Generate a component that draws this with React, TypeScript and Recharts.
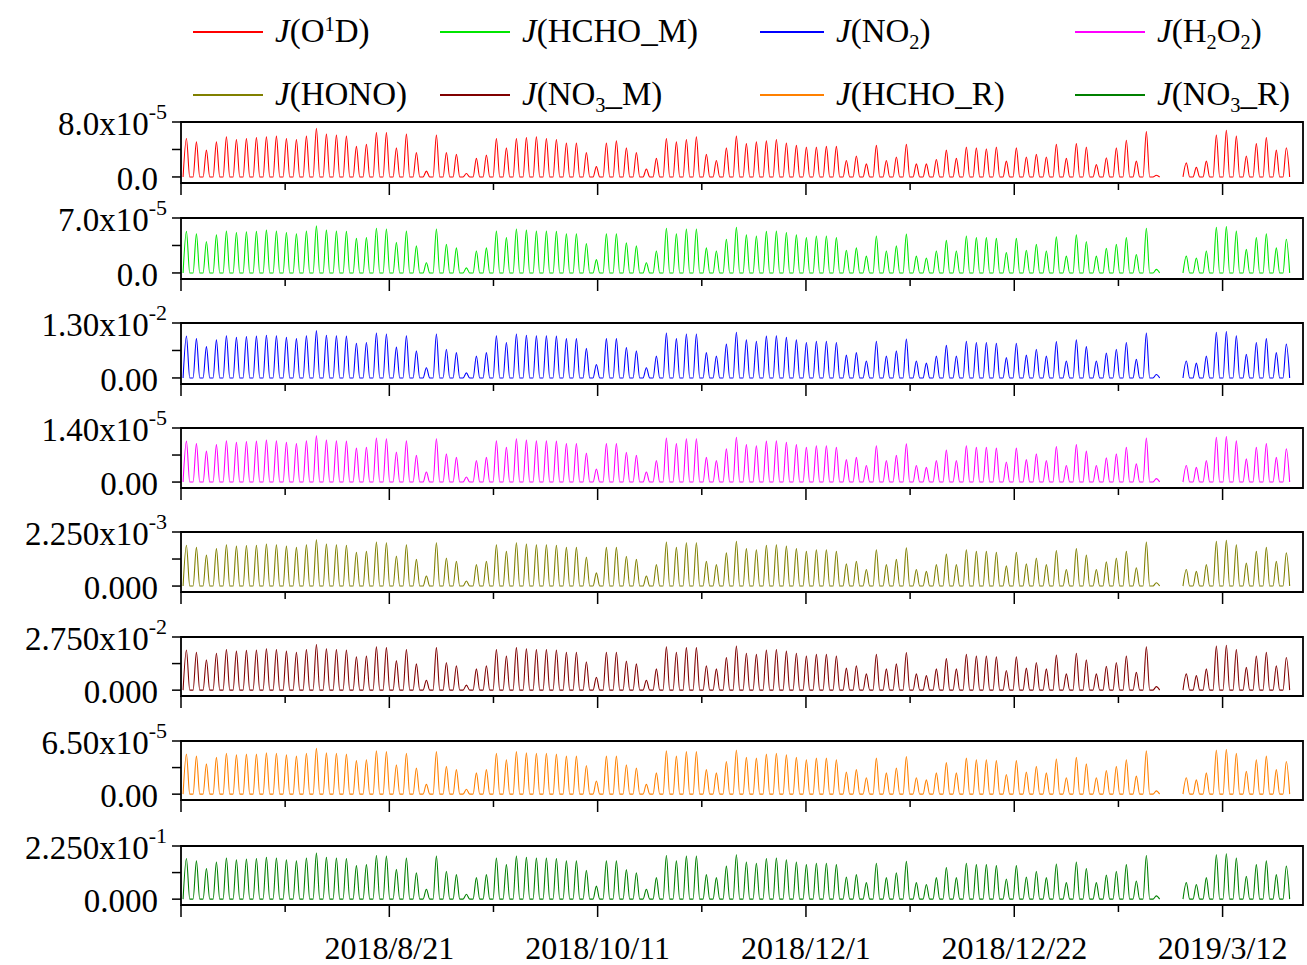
import React from "react";
import { LineChart, Line, XAxis, YAxis, ReferenceArea } from "recharts";

// daily noon peaks (null = no data)
const jO1D = [
  5.6, 5.1, 3.9, 5.1, 5.85, 5.45, 5.6, 5.75, 5.85, 5.95,
  5.6, 5.45, 5.95, 7.1, 6.25, 6.1, 5.95, 4.45, 4.75, 6.45,
  6.45, 4.25, 6.25, 3.55, 0.85, 6.1, 3.55, 3.3, 0.5, 2.7,
  3.2, 5.6, 4.25, 5.6, 5.75, 5.85, 5.6, 5.45, 4.95, 4.95,
  3.55, 1.5, 4.95, 5.25, 4.25, 3.55, 1.15, 2.7, 5.6, 5.1,
  5.45, 5.85, 3.3, 2.4, 4.25, 5.95, 4.85, 5.1, 5.25, 5.45,
  4.95, 4.6, 4.35, 4.35, 4.45, 4.45, 2.4, 3.05, 1.9, 4.6,
  2.4, 2.9, 4.75, 1.9, 1.9, 2.55, 3.9, 2.7, 4.35, 4.25,
  4.1, 4.35, 2.3, 4.25, 2.9, 3.3, 2.9, 4.75, 2.7, 4.85,
  4.35, 1.8, 2.8, 4.25, 5.35, 2.3, 6.6, 0.25, null, null,
  2.05, 1.4, 2.3, 6.1, 6.8, 5.95, 3.05, 4.85, 5.75, 3.9,
  4.25,
];
const jHCHO_M = [
  5.3, 5.0, 4.0, 4.85, 5.35, 5.15, 5.25, 5.3, 5.45, 5.35,
  5.15, 5.0, 5.35, 6.0, 5.45, 5.35, 5.3, 4.4, 4.5, 5.7,
  5.6, 3.9, 5.35, 3.45, 1.3, 5.6, 3.65, 3.2, 0.65, 2.8,
  3.2, 5.35, 4.5, 5.6, 5.45, 5.35, 5.35, 5.3, 5.0, 5.0,
  3.75, 1.7, 5.0, 5.0, 3.85, 3.45, 1.3, 2.8, 5.7, 5.0,
  5.6, 5.6, 3.2, 2.8, 4.3, 5.8, 4.85, 4.7, 5.3, 5.35,
  5.15, 4.85, 4.5, 4.7, 4.7, 4.5, 2.9, 3.2, 2.15, 4.7,
  2.8, 3.45, 4.95, 2.15, 1.9, 2.8, 4.15, 2.8, 4.7, 4.5,
  4.5, 4.4, 2.6, 4.4, 2.9, 3.65, 2.8, 4.6, 2.15, 4.85,
  4.0, 2.15, 3.15, 3.65, 4.5, 2.35, 5.7, 0.45, null, null,
  2.15, 1.9, 2.8, 5.8, 5.9, 5.35, 3.0, 4.5, 5.0, 3.2,
  4.3,
];
const jNO2 = [
  0.99, 0.93, 0.74, 0.9, 1.0, 0.96, 0.98, 0.99, 1.01, 1.0,
  0.96, 0.93, 1.0, 1.12, 1.01, 1.0, 0.99, 0.82, 0.84, 1.06,
  1.04, 0.73, 1.0, 0.64, 0.24, 1.04, 0.68, 0.6, 0.12, 0.52,
  0.6, 1.0, 0.84, 1.04, 1.01, 1.0, 1.0, 0.99, 0.93, 0.93,
  0.7, 0.32, 0.93, 0.93, 0.72, 0.64, 0.24, 0.52, 1.06, 0.93,
  1.04, 1.04, 0.6, 0.52, 0.8, 1.08, 0.9, 0.87, 0.99, 1.0,
  0.96, 0.9, 0.84, 0.87, 0.87, 0.84, 0.54, 0.6, 0.4, 0.87,
  0.52, 0.64, 0.92, 0.4, 0.35, 0.52, 0.77, 0.52, 0.87, 0.84,
  0.84, 0.82, 0.48, 0.82, 0.54, 0.68, 0.52, 0.86, 0.4, 0.9,
  0.74, 0.4, 0.59, 0.68, 0.84, 0.44, 1.06, 0.08, null, null,
  0.4, 0.35, 0.52, 1.08, 1.1, 1.0, 0.56, 0.84, 0.93, 0.6,
  0.8,
];
const jH2O2 = [
  1.06, 1.0, 0.8, 0.97, 1.07, 1.03, 1.05, 1.06, 1.09, 1.07,
  1.03, 1.0, 1.07, 1.2, 1.09, 1.07, 1.06, 0.88, 0.9, 1.14,
  1.12, 0.78, 1.07, 0.69, 0.26, 1.12, 0.73, 0.64, 0.13, 0.56,
  0.64, 1.07, 0.9, 1.12, 1.09, 1.07, 1.07, 1.06, 1.0, 1.0,
  0.75, 0.34, 1.0, 1.0, 0.77, 0.69, 0.26, 0.56, 1.14, 1.0,
  1.12, 1.12, 0.64, 0.56, 0.86, 1.16, 0.97, 0.94, 1.06, 1.07,
  1.03, 0.97, 0.9, 0.94, 0.94, 0.9, 0.58, 0.64, 0.43, 0.94,
  0.56, 0.69, 0.99, 0.43, 0.38, 0.56, 0.83, 0.56, 0.94, 0.9,
  0.9, 0.88, 0.52, 0.88, 0.58, 0.73, 0.56, 0.92, 0.43, 0.97,
  0.8, 0.43, 0.63, 0.73, 0.9, 0.47, 1.14, 0.09, null, null,
  0.43, 0.38, 0.56, 1.16, 1.18, 1.07, 0.6, 0.9, 1.0, 0.64,
  0.86,
];
const jHONO = [
  1.7, 1.61, 1.29, 1.56, 1.72, 1.66, 1.69, 1.7, 1.75, 1.72,
  1.66, 1.61, 1.72, 1.93, 1.75, 1.72, 1.7, 1.41, 1.45, 1.83,
  1.8, 1.25, 1.72, 1.11, 0.42, 1.8, 1.17, 1.03, 0.21, 0.9,
  1.03, 1.72, 1.45, 1.8, 1.75, 1.72, 1.72, 1.7, 1.61, 1.61,
  1.21, 0.55, 1.61, 1.61, 1.24, 1.11, 0.42, 0.9, 1.83, 1.61,
  1.8, 1.8, 1.03, 0.9, 1.38, 1.86, 1.56, 1.51, 1.7, 1.72,
  1.66, 1.56, 1.45, 1.51, 1.51, 1.45, 0.93, 1.03, 0.69, 1.51,
  0.9, 1.11, 1.59, 0.69, 0.61, 0.9, 1.33, 0.9, 1.51, 1.45,
  1.45, 1.41, 0.84, 1.41, 0.93, 1.17, 0.9, 1.48, 0.69, 1.56,
  1.29, 0.69, 1.01, 1.17, 1.45, 0.76, 1.83, 0.14, null, null,
  0.69, 0.61, 0.9, 1.86, 1.9, 1.72, 0.96, 1.45, 1.61, 1.03,
  1.38,
];
const jNO3_M = [
  2.08, 1.96, 1.57, 1.91, 2.1, 2.02, 2.06, 2.08, 2.14, 2.1,
  2.02, 1.96, 2.1, 2.36, 2.14, 2.1, 2.08, 1.73, 1.77, 2.24,
  2.2, 1.53, 2.1, 1.36, 0.51, 2.2, 1.43, 1.26, 0.26, 1.1,
  1.26, 2.1, 1.77, 2.2, 2.14, 2.1, 2.1, 2.08, 1.96, 1.96,
  1.47, 0.67, 1.96, 1.96, 1.51, 1.36, 0.51, 1.1, 2.24, 1.96,
  2.2, 2.2, 1.26, 1.1, 1.69, 2.28, 1.91, 1.85, 2.08, 2.1,
  2.02, 1.91, 1.77, 1.85, 1.85, 1.77, 1.14, 1.26, 0.84, 1.85,
  1.1, 1.36, 1.95, 0.84, 0.75, 1.1, 1.63, 1.1, 1.85, 1.77,
  1.77, 1.73, 1.02, 1.73, 1.14, 1.43, 1.1, 1.81, 0.84, 1.91,
  1.57, 0.84, 1.24, 1.43, 1.77, 0.92, 2.24, 0.18, null, null,
  0.84, 0.75, 1.1, 2.28, 2.32, 2.1, 1.18, 1.77, 1.96, 1.26,
  1.69,
];
const jHCHO_R = [
  4.9, 4.65, 3.7, 4.5, 5.0, 4.8, 4.9, 4.9, 5.05, 5.0,
  4.8, 4.65, 5.0, 5.6, 5.05, 5.0, 4.9, 4.1, 4.2, 5.3,
  5.2, 3.6, 5.0, 3.2, 1.2, 5.2, 3.4, 3.0, 0.6, 2.6,
  3.0, 5.0, 4.2, 5.2, 5.05, 5.0, 5.0, 4.9, 4.65, 4.65,
  3.5, 1.6, 4.65, 4.65, 3.6, 3.2, 1.2, 2.6, 5.3, 4.65,
  5.2, 5.2, 3.0, 2.6, 4.0, 5.4, 4.5, 4.4, 4.9, 5.0,
  4.8, 4.5, 4.2, 4.4, 4.4, 4.2, 2.7, 3.0, 2.0, 4.4,
  2.6, 3.2, 4.6, 2.0, 1.75, 2.6, 3.85, 2.6, 4.4, 4.2,
  4.2, 4.1, 2.4, 4.1, 2.7, 3.4, 2.6, 4.3, 2.0, 4.5,
  3.7, 2.0, 2.9, 3.4, 4.2, 2.2, 5.3, 0.4, null, null,
  2.0, 1.75, 2.6, 5.4, 5.5, 5.0, 2.8, 4.2, 4.65, 3.0,
  4.0,
];
const jNO3_R = [
  1.72, 1.62, 1.3, 1.57, 1.74, 1.67, 1.7, 1.72, 1.77, 1.74,
  1.67, 1.62, 1.74, 1.95, 1.77, 1.74, 1.72, 1.42, 1.46, 1.85,
  1.82, 1.26, 1.74, 1.12, 0.42, 1.82, 1.18, 1.04, 0.21, 0.91,
  1.04, 1.74, 1.46, 1.82, 1.77, 1.74, 1.74, 1.72, 1.62, 1.62,
  1.22, 0.55, 1.62, 1.62, 1.25, 1.12, 0.42, 0.91, 1.85, 1.62,
  1.82, 1.82, 1.04, 0.91, 1.4, 1.88, 1.57, 1.52, 1.72, 1.74,
  1.67, 1.57, 1.46, 1.52, 1.52, 1.46, 0.94, 1.04, 0.7, 1.52,
  0.91, 1.12, 1.6, 0.7, 0.62, 0.91, 1.34, 0.91, 1.52, 1.46,
  1.46, 1.42, 0.85, 1.42, 0.94, 1.18, 0.91, 1.49, 0.7, 1.57,
  1.3, 0.7, 1.02, 1.18, 1.46, 0.77, 1.85, 0.14, null, null,
  0.7, 0.62, 0.91, 1.88, 1.92, 1.74, 0.97, 1.46, 1.62, 1.04,
  1.4,
];

// hour-of-day of the dawn / noon / dusk samples
const sampleHours = [5, 13, 21];
// x axis is the hourly record index; tick labels at every 500th point
const xTicks = [0, 250, 500, 750, 1000, 1250, 1500, 1750, 2000, 2250, 2500];
const dateLabels: Record<number, string> = {
  500: "2018/8/21",
  1000: "2018/10/11",
  1500: "2018/12/1",
  2000: "2018/12/22",
  2500: "2019/3/12",
};
const X_MAX = 2693;

const panels = [
  { key: "jO1D", values: jO1D, color: "#ff0000", max: 8, topText: "8.0", zeroText: "0.0", exp: "-5", top: 122, bottom: 183 },
  { key: "jHCHO_M", values: jHCHO_M, color: "#00e600", max: 7, topText: "7.0", zeroText: "0.0", exp: "-5", top: 218, bottom: 279 },
  { key: "jNO2", values: jNO2, color: "#0000ff", max: 1.3, topText: "1.30", zeroText: "0.00", exp: "-2", top: 323, bottom: 384 },
  { key: "jH2O2", values: jH2O2, color: "#ff00ff", max: 1.4, topText: "1.40", zeroText: "0.00", exp: "-5", top: 428, bottom: 488 },
  { key: "jHONO", values: jHONO, color: "#808000", max: 2.25, topText: "2.250", zeroText: "0.000", exp: "-3", top: 532, bottom: 592 },
  { key: "jNO3_M", values: jNO3_M, color: "#800000", max: 2.75, topText: "2.750", zeroText: "0.000", exp: "-2", top: 637, bottom: 696 },
  { key: "jHCHO_R", values: jHCHO_R, color: "#ff8000", max: 6.5, topText: "6.50", zeroText: "0.00", exp: "-5", top: 741, bottom: 800 },
  { key: "jNO3_R", values: jNO3_R, color: "#008000", max: 2.25, topText: "2.250", zeroText: "0.000", exp: "-1", top: 846, bottom: 905 },
];

const data: Record<string, number | null>[] = [];
jO1D.forEach((_, d) => {
  sampleHours.forEach((h) => {
    const row: Record<string, number | null> = { t: d * 24 + h };
    panels.forEach((p) => {
      const v = p.values[d];
      row[p.key] = v == null ? null : h === 13 ? v : 0;
    });
    data.push(row);
  });
});

const FONT = "'Liberation Serif', 'Times New Roman', serif";

const sub = (s: string) => (
  <span style={{ fontSize: "0.62em", position: "relative", top: "0.35em" }}>{s}</span>
);
const sup = (s: string) => (
  <span style={{ fontSize: "0.62em", position: "relative", top: "-0.55em" }}>{s}</span>
);

const legendItems = [
  { color: "#ff0000", x: 193, tx: 275, y: 32, label: <>(O{sup("1")}D)</> },
  { color: "#00e600", x: 440, tx: 522, y: 32, label: <>(HCHO_M)</> },
  { color: "#0000ff", x: 760, tx: 836, y: 32, label: <>(NO{sub("2")})</> },
  { color: "#ff00ff", x: 1075, tx: 1157, y: 32, label: <>(H{sub("2")}O{sub("2")})</> },
  { color: "#808000", x: 193, tx: 275, y: 95, label: <>(HONO)</> },
  { color: "#800000", x: 440, tx: 522, y: 95, label: <>(NO{sub("3")}_M)</> },
  { color: "#ff8000", x: 760, tx: 836, y: 95, label: <>(HCHO_R)</> },
  { color: "#008000", x: 1075, tx: 1157, y: 95, label: <>(NO{sub("3")}_R)</> },
];

const PAD_TOP = 25;

function XTick(props: any) {
  const { x, y, payload, showLabel } = props;
  const major = payload.value % 500 === 0;
  const label = dateLabels[payload.value];
  return (
    <g>
      <line x1={x} x2={x} y1={y} y2={y + (major ? 12 : 7)} stroke="#000" strokeWidth={1.5} />
      {showLabel && label && (
        <text x={x} y={y + 43} textAnchor="middle" dominantBaseline="central"
          fontFamily={FONT} fontSize={32} fill="#000">
          {label}
        </text>
      )}
    </g>
  );
}

function YTick(props: any) {
  const { x, y, payload, panel } = props;
  const v = payload.value;
  const isTop = v === panel.max;
  let text: React.ReactNode = null;
  if (v === 0) text = panel.zeroText;
  else if (isTop)
    text = (
      <>
        {panel.topText}x10
        <tspan dy={-13} fontSize={22}>{panel.exp}</tspan>
      </>
    );
  return (
    <g>
      <line x1={x - 9} x2={x} y1={y} y2={y} stroke="#000" strokeWidth={1.5} />
      {text && (
        <text x={x - (isTop ? 14 : 23)} y={y + 2} textAnchor="end" dominantBaseline="central"
          fontFamily={FONT} fontSize={33} fill="#000">
          {text}
        </text>
      )}
    </g>
  );
}

function Panel({ panel, last }: { panel: (typeof panels)[number]; last: boolean }) {
  const plotH = panel.bottom - panel.top;
  const axisH = last ? 60 : 18;
  const min = -panel.max * 0.11;
  return (
    <div style={{ position: "absolute", left: 0, top: panel.top - PAD_TOP }}>
      <LineChart
        width={1307}
        height={PAD_TOP + plotH + axisH}
        data={data}
        margin={{ top: PAD_TOP, right: 4, bottom: 0, left: 0 }}
      >
        <XAxis
          dataKey="t"
          type="number"
          domain={[0, X_MAX]}
          ticks={xTicks}
          interval={0}
          height={axisH}
          tickSize={0}
          tickMargin={0}
          axisLine={false}
          tickLine={false}
          tick={(p: any) => <XTick {...p} showLabel={last} />}
        />
        <YAxis
          type="number"
          domain={[min, panel.max]}
          allowDataOverflow
          ticks={[0, panel.max / 2, panel.max]}
          interval={0}
          width={181}
          tickSize={0}
          tickMargin={0}
          axisLine={false}
          tickLine={false}
          tick={(p: any) => <YTick {...p} panel={panel} />}
        />
        <Line
          dataKey={panel.key}
          type="monotone"
          stroke={panel.color}
          strokeWidth={1.1}
          dot={false}
          isAnimationActive={false}
        />
        <ReferenceArea
          x1={0}
          x2={X_MAX}
          y1={min}
          y2={panel.max}
          fill="none"
          fillOpacity={0}
          stroke="#000"
          strokeWidth={1.8}
          ifOverflow="visible"
        />
      </LineChart>
    </div>
  );
}

export default function App() {
  return (
    <div
      style={{
        position: "absolute",
        left: 0,
        top: 0,
        width: 1307,
        height: 965,
        background: "#fff",
        fontFamily: FONT,
        overflow: "hidden",
      }}
    >
      {legendItems.map((it, i) => (
        <React.Fragment key={i}>
          <div
            style={{
              position: "absolute",
              left: it.x,
              top: it.y - 1,
              width: it.tx - it.x - 12,
              height: 1.5,
              background: it.color,
            }}
          />
          <div
            style={{
              position: "absolute",
              left: it.tx,
              top: it.y - 21,
              fontSize: 33,
              lineHeight: "40px",
              whiteSpace: "nowrap",
              color: "#000",
            }}
          >
            <i>J</i>
            {it.label}
          </div>
        </React.Fragment>
      ))}
      {panels.map((p, i) => (
        <Panel key={p.key} panel={p} last={i === panels.length - 1} />
      ))}
    </div>
  );
}
